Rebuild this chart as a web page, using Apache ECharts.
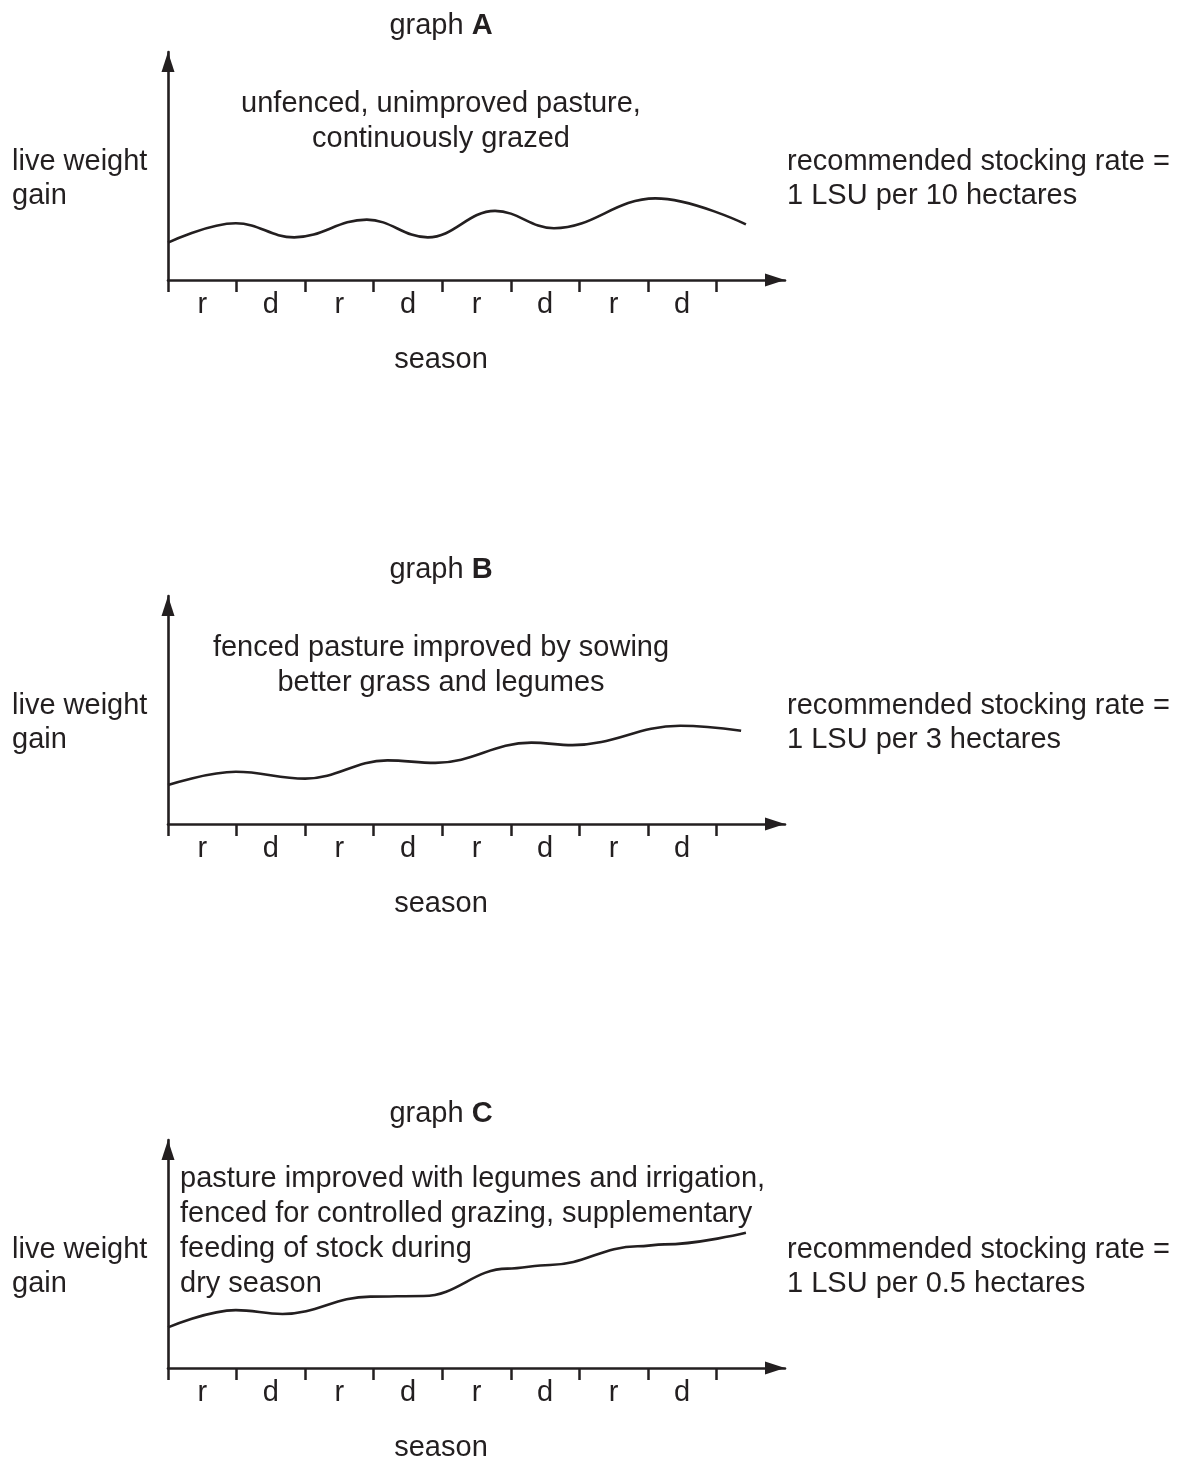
<!DOCTYPE html>
<html>
<head>
<meta charset="utf-8">
<script src="https://cdn.jsdelivr.net/npm/echarts@6/dist/echarts.min.js"></script>
<style>
  html, body { margin: 0; padding: 0; background: #fff; }
  #chart { width: 1179px; height: 1457px; }
</style>
</head>
<body>
<div id="chart"></div>
<script>
// ---- data (turning points of each curve) ----
const seasons = ['r', 'd', 'r', 'd', 'r', 'd', 'r', 'd'];
const tickValues = [0, 1, 2, 3, 4, 5, 6, 7, 8];

const graphA = [
  [0, 1.64], [0.99, 2.49], [1.84, 1.87], [2.90, 2.65], [3.79, 1.87],
  [4.77, 3.03], [5.63, 2.27], [7.11, 3.58], [8.43, 2.44]
];
const graphB = [
  [0, 1.71], [0.99, 2.29], [2.0, 1.99], [3.2, 2.79], [3.9, 2.68],
  [5.3, 3.57], [5.9, 3.46], [7.47, 4.31], [8.36, 4.09]
];
const graphC = [
  [0, 1.78], [0.99, 2.54], [1.67, 2.37], [2.95, 3.13], [3.73, 3.16],
  [4.95, 4.36], [5.57, 4.52], [6.85, 5.34], [7.24, 5.42], [8.43, 5.93]
];

const titles = ['A', 'B', 'C'];
const notesA = ['unfenced, unimproved pasture,', 'continuously grazed'];
const notesB = ['fenced pasture improved by sowing', 'better grass and legumes'];
const notesC = ['pasture improved with legumes and irrigation,',
  'fenced for controlled grazing, supplementary',
  'feeding of stock during', 'dry season'];
const yName = ['live weight', 'gain'];
const xName = 'season';
const rates = ['1 LSU per 10 hectares', '1 LSU per 3 hectares', '1 LSU per 0.5 hectares'];
const rateHead = 'recommended stocking rate =';

// ---- chart ----
const INK = '#231f20';
const FONT = '"Liberation Sans", Arial, Helvetica, sans-serif';
const FS = 29;
const tops = [52, 596, 1140];
const H = 228;
const labelValues = seasons.map((s, i) => i + 0.5);

function txt(text, x, y, align) {
  return {
    type: 'text', x: x, y: y, silent: true,
    style: {
      text: text, fill: INK, fontSize: FS, fontFamily: FONT,
      align: align || 'left', verticalAlign: 'middle'
    }
  };
}

const grids = [], xAxes = [], yAxes = [], series = [], graphics = [];
const datasets = [graphA, graphB, graphC];
const notes = [notesA, notesB, notesC];

tops.forEach((top, i) => {
  grids.push({ left: 168, top: top, width: 617, height: H, containLabel: false });
  xAxes.push({
    type: 'value', gridIndex: i, min: 0, max: 9,
    axisLine: {
      show: true, onZero: false,
      symbol: ['none', 'triangle'], symbolSize: [13, 20], symbolOffset: [0, -10],
      lineStyle: { color: INK, width: 2.6 }
    },
    axisTick: { show: true, customValues: tickValues, length: 12, lineStyle: { color: INK, width: 2.5 } },
    axisLabel: {
      show: true, customValues: labelValues, margin: 10,
      formatter: v => seasons[Math.floor(v)],
      color: INK, fontSize: FS, fontFamily: FONT
    },
    splitLine: { show: false }
  });
  yAxes.push({
    type: 'value', gridIndex: i, min: 0, max: 10,
    axisLine: {
      show: true, onZero: false,
      symbol: ['none', 'triangle'], symbolSize: [13, 20], symbolOffset: [0, -10],
      lineStyle: { color: INK, width: 2.6 }
    },
    axisTick: { show: false }, axisLabel: { show: false }, splitLine: { show: false }
  });
  series.push({
    type: 'line', xAxisIndex: i, yAxisIndex: i, data: datasets[i],
    smooth: 0.4, smoothMonotone: 'x', showSymbol: false, silent: true,
    lineStyle: { color: INK, width: 2.6 }
  });

  const off = top - tops[0];
  // title
  graphics.push({
    type: 'text', x: 441, y: 26 + off, silent: true,
    style: {
      text: '{n|graph }{b|' + titles[i] + '}', align: 'center', verticalAlign: 'middle',
      fill: INK, fontSize: FS, fontFamily: FONT,
      rich: {
        n: { fill: INK, fontSize: FS, fontFamily: FONT },
        b: { fill: INK, fontSize: FS, fontFamily: FONT, fontWeight: 'bold' }
      }
    }
  });
  // annotation
  notes[i].forEach((line, k) => {
    if (i < 2) graphics.push(txt(line, 441, 104 + off + 35 * k, 'center'));
    else graphics.push(txt(line, 180, 1179 + 35 * k, 'left'));
  });
  // y name
  yName.forEach((line, k) => graphics.push(txt(line, 12, 162 + off + 34 * k, 'left')));
  // rates
  graphics.push(txt(rateHead, 787, 162 + off, 'left'));
  graphics.push(txt(rates[i], 787, 196 + off, 'left'));
  // x name
  graphics.push(txt(xName, 441, 360 + off, 'center'));
});

const chart = echarts.init(document.getElementById('chart'), null, { renderer: 'canvas' });
chart.setOption({
  animation: false,
  backgroundColor: '#ffffff',
  grid: grids, xAxis: xAxes, yAxis: yAxes, series: series,
  graphic: graphics
});
</script>
</body>
</html>
